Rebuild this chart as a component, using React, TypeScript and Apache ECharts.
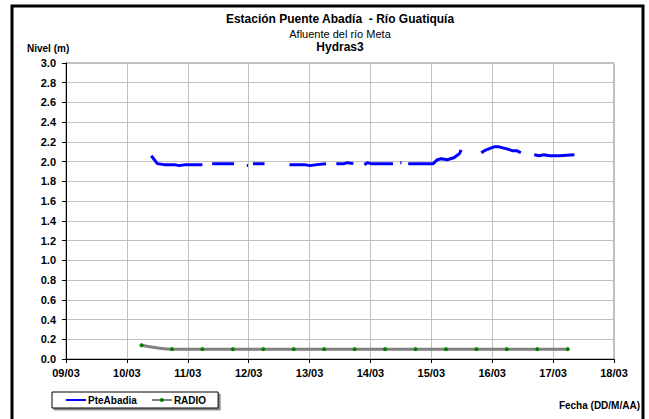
import React, { useEffect, useRef } from "react";
import * as echarts from "echarts";

// Day of March (fractional) and level (m); null = gap in record
const pteDays: (number | null)[] = [
  10.40, 10.50, 10.61, 10.78, 10.86, 10.96, 11.10, 11.24, null,
  11.40, 11.76, null,
  11.97, 11.99, null,
  12.07, 12.26, null,
  12.67, 12.91, 13.01, 13.12, 13.27, null,
  13.44, 13.57, 13.62, 13.72, null,
  13.90, 13.95, 14.01, 14.37, null,
  14.49, 14.51, null,
  14.62, 15.03, 15.10, 15.16, 15.26, 15.37, 15.46, 15.49, null,
  15.82, 15.90, 16.03, 16.11, 16.24, 16.34, 16.41, 16.47, null,
  16.69, 16.77, 16.85, 16.94, 17.10, 17.35,
];
const pteLevels: (number | null)[] = [
  2.06, 1.98, 1.97, 1.97, 1.96, 1.97, 1.97, 1.97, null,
  1.98, 1.98, null,
  1.96, 1.96, null,
  1.98, 1.98, null,
  1.97, 1.97, 1.96, 1.97, 1.98, null,
  1.98, 1.98, 1.99, 1.98, null,
  1.97, 1.99, 1.98, 1.98, null,
  1.99, 1.99, null,
  1.98, 1.98, 2.02, 2.03, 2.02, 2.04, 2.08, 2.12, null,
  2.09, 2.12, 2.15, 2.15, 2.13, 2.11, 2.11, 2.09, null,
  2.07, 2.06, 2.07, 2.06, 2.06, 2.07,
];

const radioDays: number[] = [
  10.24, 10.74, 11.24, 11.74, 12.24, 12.74, 13.24, 13.74, 14.24, 14.74,
  15.24, 15.74, 16.24, 16.74, 17.24,
];
const radioLevels: number[] = [
  0.14, 0.10, 0.10, 0.10, 0.10, 0.10, 0.10, 0.10, 0.10, 0.10,
  0.10, 0.10, 0.10, 0.10, 0.10,
];

const xTickLabels: string[] = [
  "09/03", "10/03", "11/03", "12/03", "13/03", "14/03", "15/03", "16/03", "17/03", "18/03",
];

const FONT = "'Liberation Sans', Arial, sans-serif";

export default function App() {
  const ref = useRef<HTMLDivElement>(null);
  useEffect(() => {
    if (!ref.current) return;
    const chart = echarts.init(ref.current, undefined, { renderer: "svg" });
    const pteData = pteDays.map((d, i) =>
      d === null ? [pteDays[i - 1] ?? 0, "-"] : [d, pteLevels[i]]
    );
    const radioData = radioDays.map((d, i) => [d, radioLevels[i]]);
    chart.setOption({
      animation: false,
      backgroundColor: "#ffffff",
      textStyle: { fontFamily: FONT },
      title: [
        {
          text: "Estación Puente Abadía  - Río Guatiquía",
          left: 340, top: 13, textAlign: "center", padding: 0,
          textStyle: { fontFamily: FONT, fontSize: 12, fontWeight: "bold", color: "#000" },
        },
        {
          text: "Afluente del río Meta",
          left: 340, top: 28, textAlign: "center", padding: 0,
          textStyle: { fontFamily: FONT, fontSize: 11, fontWeight: "normal", color: "#000" },
        },
        {
          text: "Hydras3",
          left: 340, top: 41, textAlign: "center", padding: 0,
          textStyle: { fontFamily: FONT, fontSize: 12, fontWeight: "bold", color: "#000" },
        },
      ],
      graphic: [
        {
          type: "rect",
          shape: { x: 12, y: 6, width: 631, height: 420 },
          style: { fill: "none", stroke: "#000", lineWidth: 3 },
          silent: true,
        },
        {
          type: "text",
          x: 27, y: 43,
          style: { text: "Nivel (m)", font: `bold 10px ${FONT}`, fill: "#000" },
        },
        {
          type: "text",
          x: 640, y: 400,
          style: { text: "Fecha (DD/M/AA)", font: `bold 10px ${FONT}`, fill: "#000", align: "right" },
        },
      ],
      legend: {
        left: 52, top: 392,
        itemWidth: 20, itemHeight: 5, itemGap: 14,
        padding: [3, 12, 3, 13],
        borderColor: "#000", borderWidth: 1, backgroundColor: "#fff",
        shadowColor: "rgba(0,0,0,0.45)", shadowOffsetX: 2, shadowOffsetY: 2, shadowBlur: 0,
        textStyle: { fontFamily: FONT, fontSize: 10, fontWeight: "bold", color: "#000", padding: [0, 0, 0, -3] },
        data: [
          { name: "PteAbadia", itemStyle: { opacity: 0 } },
          { name: "RADIO" },
        ],
      },
      grid: {
        left: 66, right: 35, top: 63, bottom: 60,
        show: true, borderColor: "#808080", borderWidth: 1, backgroundColor: "#fff",
      },
      xAxis: {
        type: "value", min: 9, max: 18, interval: 1,
        axisLine: { show: true, lineStyle: { color: "#000", width: 1 } },
        axisTick: { show: true, length: 4, lineStyle: { color: "#000" } },
        axisLabel: {
          margin: 8,
          fontFamily: FONT, fontSize: 11, fontWeight: "bold", color: "#000",
          formatter: (v: number) => xTickLabels[Math.round(v) - 9] ?? "",
        },
        splitLine: { show: true, lineStyle: { color: "#c0c0c0", width: 1 } },
      },
      yAxis: {
        type: "value", min: 0, max: 3, interval: 0.2,
        axisLine: { show: true, lineStyle: { color: "#000", width: 1 } },
        axisTick: { show: true, length: 4, lineStyle: { color: "#000" } },
        axisLabel: {
          margin: 10,
          fontFamily: FONT, fontSize: 11, fontWeight: "bold", color: "#000",
          formatter: (v: number) => v.toFixed(1),
        },
        splitLine: { show: true, lineStyle: { color: "#c0c0c0", width: 1 } },
      },
      series: [
        {
          name: "PteAbadia", type: "line", data: pteData,
          symbol: "none", connectNulls: false,
          lineStyle: { color: "#0000ff", width: 3 },
          itemStyle: { color: "#0000ff" },
        },
        {
          name: "RADIO", type: "line", data: radioData,
          symbol: "circle", symbolSize: 4, showSymbol: true,
          smooth: 0.3,
          lineStyle: { color: "#808080", width: 3 },
          itemStyle: { color: "#008000", borderWidth: 0 },
        },
      ],
    });
    return () => chart.dispose();
  }, []);
  return (
    <div
      ref={ref}
      style={{ position: "fixed", left: 0, top: 0, width: 649, height: 419 }}
    />
  );
}
